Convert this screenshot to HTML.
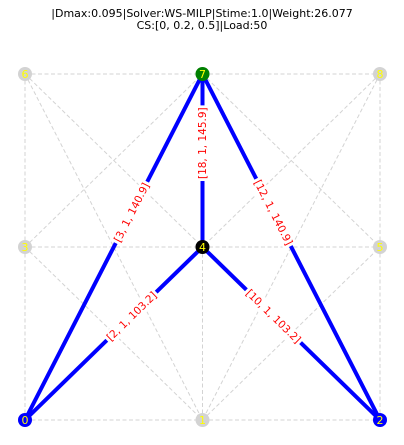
<!DOCTYPE html>
<html><head><meta charset="utf-8"><style>
body{margin:0;background:#fff;}
svg{display:block;font-family:"DejaVu Sans","Liberation Sans",sans-serif;}
</style></head><body>
<svg id="chart" width="404" height="445" viewBox="0 0 404 445">
<text x="202" y="17" text-anchor="middle" font-size="11">|Dmax:0.095|Solver:WS-MILP|Stime:1.0|Weight:26.077</text>
<text x="202" y="29" text-anchor="middle" font-size="11">CS:[0, 0.2, 0.5]|Load:50</text>
<g id="dashed"></g><g id="solid"></g><g id="labels"></g><g id="nodes"></g>
</svg>
<script>
const nodeIds=[0,1,2,3,4,5,6,7,8];
const nodeCol=[0,1,2,0,1,2,0,1,2];
const nodeRow=[0,0,0,1,1,1,2,2,2];
const nodeColors=["#0000ff","#d3d3d3","#0000ff","#d3d3d3","#000000","#d3d3d3","#d3d3d3","#008000","#d3d3d3"];
const dashedEdges=[[0,1],[1,2],[3,4],[4,5],[6,7],[7,8],[0,3],[3,6],[1,4],[4,7],[2,5],[5,8],[6,4],[8,4],[0,4],[2,4],[3,7],[7,5],[3,1],[1,5],[6,1],[8,1],[0,7],[2,7]];
const flowEdges=[[7,4],[7,0],[7,2],[4,0],[4,2]];
const flowLabels=["[18, 1, 145.9]","[3, 1, 140.9]","[12, 1, 140.9]","[2, 1, 103.2]","[10, 1, 103.2]"];
const NS="http://www.w3.org/2000/svg";
const xs=c=>25+c*177.5, ys=r=>420-r*173;
const px=i=>xs(nodeCol[i]), py=i=>ys(nodeRow[i]);
function mk(tag,attrs,parent){const e=document.createElementNS(NS,tag);for(const k in attrs)e.setAttribute(k,attrs[k]);document.getElementById(parent).appendChild(e);return e;}
dashedEdges.forEach(([a,b])=>{
 const l=mk('line',{x1:px(a),y1:py(a),x2:px(b),y2:py(b),stroke:'#d3d3d3','stroke-width':1,'stroke-dasharray':'4,2.5'},'dashed');
 
 
});
flowEdges.forEach(([a,b],i)=>{
 const l=mk('line',{x1:px(a),y1:py(a),x2:px(b),y2:py(b),stroke:'#0000ff','stroke-width':4},'solid');
 
 
 const t=0.4,cx=px(a)+(px(b)-px(a))*t,cy=py(a)+(py(b)-py(a))*t;
 let ang=Math.atan2(py(b)-py(a),px(b)-px(a))*180/Math.PI;
 if(ang>=90)ang-=180; if(ang<-90)ang+=180;
 const g=mk('g',{transform:`translate(${cx},${cy}) rotate(${ang})`},'labels');
 
 
 const txt=document.createElementNS(NS,'text');
 txt.setAttribute('text-anchor','middle');txt.setAttribute('dy','3.7');txt.setAttribute('font-size','10.5');txt.setAttribute('fill','#ff0000');
 txt.textContent=flowLabels[i];
 g.appendChild(txt);
 const bb=txt.getBBox();
 const r=document.createElementNS(NS,'rect');
 r.setAttribute('x',bb.x-2);r.setAttribute('y',bb.y-1);r.setAttribute('width',bb.width+4);r.setAttribute('height',bb.height+2);r.setAttribute('fill','#fff');
 g.insertBefore(r,txt);
});
nodeIds.forEach(i=>{
 const c=mk('circle',{cx:px(i),cy:py(i),r:7,fill:nodeColors[i]},'nodes');
 
 
 const t=mk('text',{x:px(i),y:py(i)+4,'text-anchor':'middle','font-size':11,fill:'#ffff00'},'nodes');
 t.textContent=String(i);
 
 
});
</script>
</body></html>
